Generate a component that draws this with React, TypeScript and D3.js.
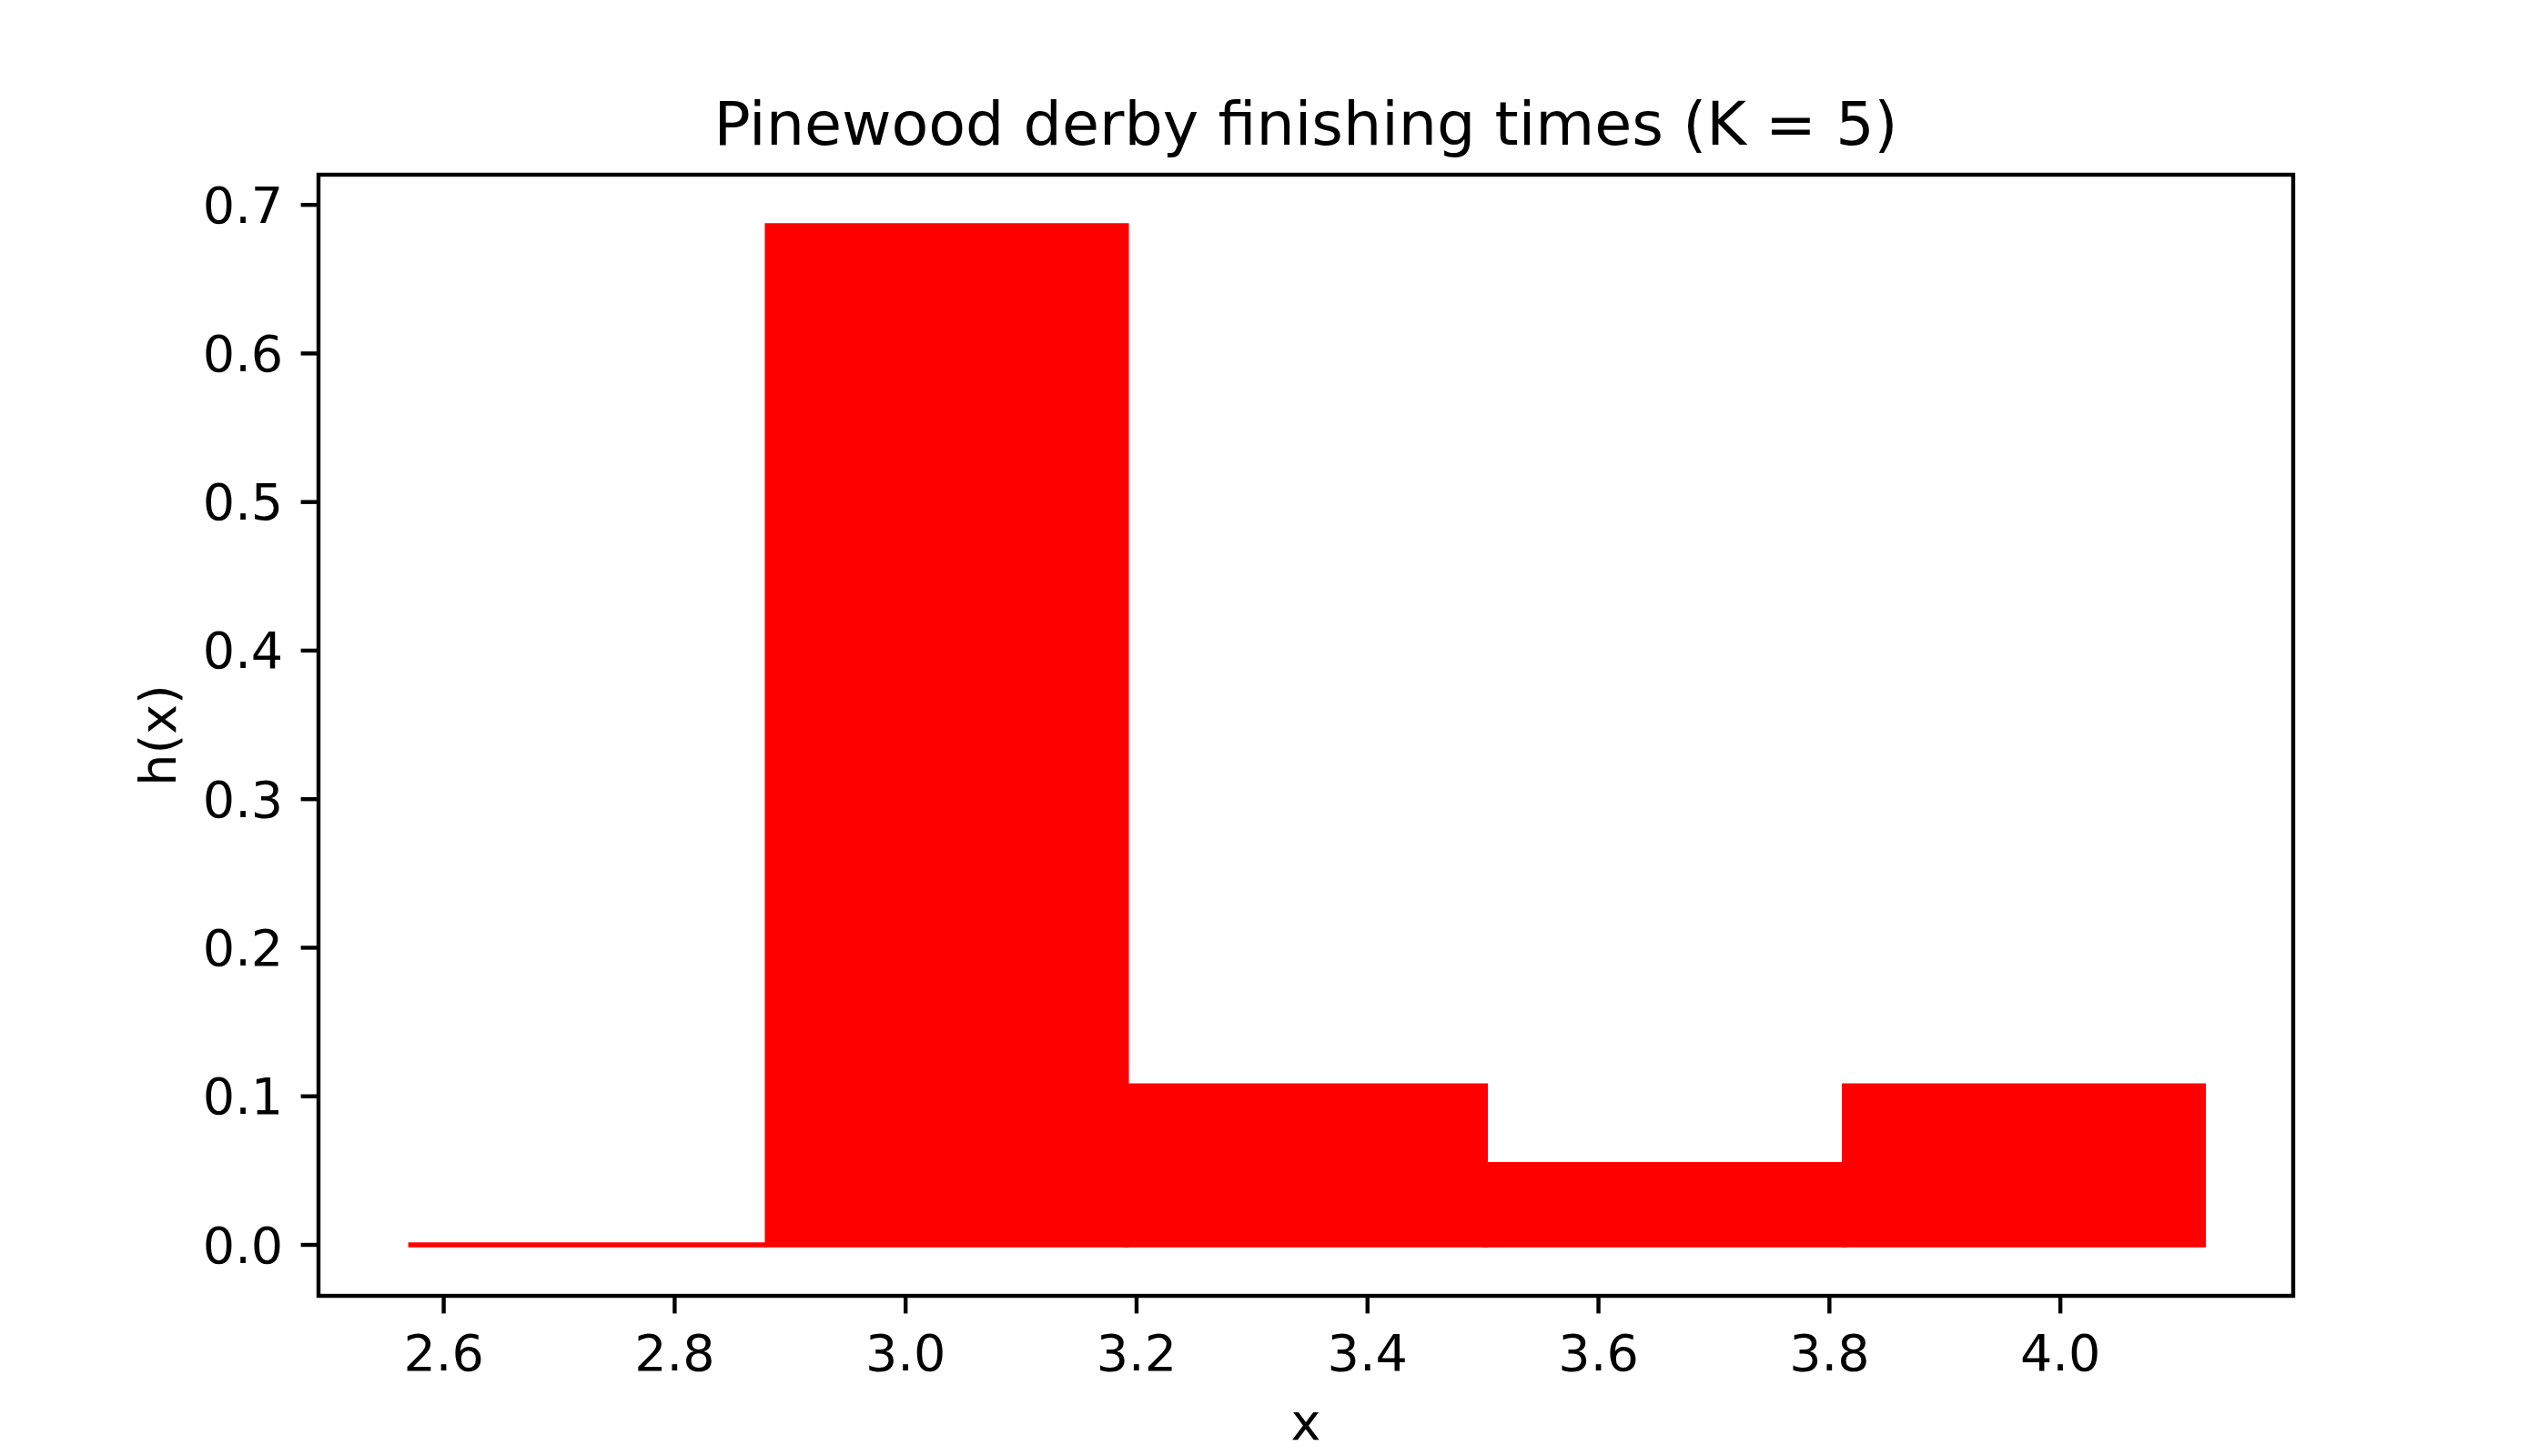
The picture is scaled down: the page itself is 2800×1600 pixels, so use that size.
import React from "react";
import * as d3 from "d3";

const binEdges = [2.5693, 2.8802, 3.1912, 3.5021, 3.813, 4.1239];
const binHeights = [0, 0.686, 0.107, 0.054, 0.107];
const xTicks = [2.6, 2.8, 3.0, 3.2, 3.4, 3.6, 3.8, 4.0];
const yTicks = [0.0, 0.1, 0.2, 0.3, 0.4, 0.5, 0.6, 0.7];
const titleText = "Pinewood derby finishing times (K = 5)";
const xLabel = "x";
const yLabel = "h(x)";

const W = 2800;
const H = 1600;
const L = 350;
const R = 2520;
const T = 192;
const B = 1424;
const FONT = "DejaVu Sans";
const tickFs = 55.6;
const lw = 4.4;
const tickLen = 19.4;

export default function App() {
  const x0 = binEdges[0];
  const x1 = binEdges[binEdges.length - 1];
  const xs = x1 - x0;
  const x = d3.scaleLinear().domain([x0 - 0.05 * xs, x1 + 0.05 * xs]).range([L, R]);
  const ymax = d3.max(binHeights) as number;
  const y = d3.scaleLinear().domain([-0.05 * ymax, 1.05 * ymax]).range([B, T]);
  const fmt = d3.format(".1f");

  return (
    <svg width={W} height={H} style={{ position: "absolute", left: 0, top: 0, background: "#fff" }} fontFamily={FONT}>
      <rect x={0} y={0} width={W} height={H} fill="#fff" />
      {binHeights.map((h, i) => {
        const xa = x(binEdges[i]);
        const xb = x(binEdges[i + 1]);
        const ya = y(h);
        const yb = y(0);
        const p = d3.path();
        p.moveTo(xa, yb);
        p.lineTo(xa, ya);
        p.lineTo(xb, ya);
        p.lineTo(xb, yb);
        p.closePath();
        return (
          <path
            key={i}
            d={p.toString()}
            fill="#ff0000"
            stroke="#ff0000"
            strokeWidth={5.5}
            strokeLinejoin="miter"
          />
        );
      })}
      {/* spines */}
      <rect x={L} y={T} width={R - L} height={B - T} fill="none" stroke="#000" strokeWidth={lw} strokeLinecap="square" />
      {xTicks.map((t) => (
        <g key={"x" + t}>
          <line x1={x(t)} x2={x(t)} y1={B} y2={B + tickLen} stroke="#000" strokeWidth={lw} />
          <text x={x(t)} y={1506} fontSize={tickFs} textAnchor="middle" fill="#000">
            {fmt(t)}
          </text>
        </g>
      ))}
      {yTicks.map((t) => (
        <g key={"y" + t}>
          <line x1={L - tickLen} x2={L} y1={y(t)} y2={y(t)} stroke="#000" strokeWidth={lw} />
          <text x={L - tickLen - 19.4} y={y(t)} fontSize={tickFs} textAnchor="end" dominantBaseline="central" fill="#000">
            {fmt(t)}
          </text>
        </g>
      ))}
      <text x={(L + R) / 2} y={159} fontSize={66.7} textAnchor="middle" fill="#000">
        {titleText}
      </text>
      <text x={(L + R) / 2} y={1582} fontSize={tickFs} textAnchor="middle" fill="#000">
        {xLabel}
      </text>
      <text
        transform={`translate(193, ${(T + B) / 2}) rotate(-90)`}
        fontSize={tickFs}
        textAnchor="middle"
        fill="#000"
      >
        {yLabel}
      </text>
    </svg>
  );
}
